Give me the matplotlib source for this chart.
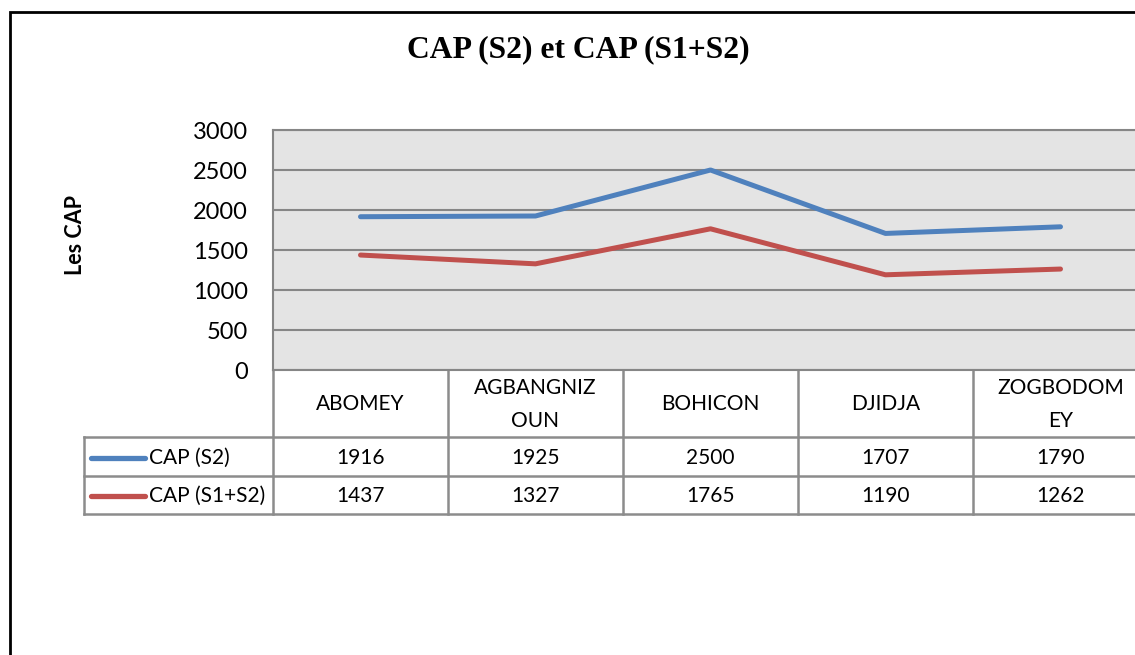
import matplotlib
matplotlib.use("Agg")
import matplotlib.pyplot as plt
import matplotlib.transforms as mtransforms
from matplotlib.lines import Line2D

# DATA
communes = ["ABOMEY", "AGBANGNIZ\nOUN", "BOHICON", "DJIDJA", "ZOGBODOM\nEY"]
series_names = ["CAP (S2)", "CAP (S1+S2)"]
cap_s2 = [1916, 1925, 2500, 1707, 1790]
cap_s1_s2 = [1437, 1327, 1765, 1190, 1262]
y_ticks = [0, 500, 1000, 1500, 2000, 2500, 3000]

colors = ["#4F81BD", "#C0504D"]
grid_color = "#868686"
W, H = 1135, 655

fig = plt.figure(figsize=(W / 100, H / 100), dpi=100)

# overlay in pixel coordinates for border / table / labels
ov = fig.add_axes([0, 0, 1, 1], zorder=0)
ov.set_xlim(0, W)
ov.set_ylim(H, 0)
ov.axis("off")

# MAIN PLOT AREA (extends past the right edge like the original)
left, top, bottom, right = 273, 130, 370, 1148
ax = fig.add_axes([left / W, 1 - bottom / H, (right - left) / W, (bottom - top) / H], zorder=1)
ax.set_facecolor("#E4E4E4")
x = list(range(len(communes)))
for vals, c in zip([cap_s2, cap_s1_s2], colors):
    ax.plot(x, vals, color=c, lw=3.6, solid_capstyle="round", solid_joinstyle="round", zorder=3)
ax.set_xlim(-0.5, len(communes) - 0.5)
ax.set_ylim(0, 3000)
ax.set_yticks(y_ticks)
ax.set_xticks([])
ax.yaxis.grid(True, color=grid_color, lw=1.5)
ax.set_axisbelow(True)
ax.tick_params(axis="y", length=0, pad=18, labelsize=17)
for lab in ax.get_yticklabels():
    lab.set_fontfamily("Lato")
for s in ax.spines.values():
    s.set_color(grid_color)
    s.set_linewidth(1.5)

# title and y label
ov.text(578, 50, "CAP (S2) et CAP (S1+S2)", ha="center", va="center",
        fontsize=22.8, fontweight="bold", family="Liberation Serif")
ov.text(75, 235, "Les CAP", ha="center", va="center", rotation=90,
        fontsize=15.5, fontweight="bold", family="Lato")

# outer border
ov.plot([10, 10, W + 5], [H + 5, 12, 12], color="black", lw=2, solid_joinstyle="miter")

# DATA TABLE
tc = "#8C8C8C"
blend = mtransforms.blended_transform_factory(ax.transData, ov.transData)
row_y = [bottom, 437, 476, 514]
edges = [i - 0.5 for i in range(len(communes) + 1)]
for e in edges:
    ov.plot([e, e], [row_y[0], row_y[-1]], color=tc, lw=1.8, transform=blend, clip_on=False)
for yy in row_y[1:]:
    ov.plot([84, W + 5], [yy, yy], color=tc, lw=1.8)
ov.plot([84, 84], [row_y[1], row_y[-1]], color=tc, lw=1.8)

for i, name in enumerate(communes):
    ov.text(i, (row_y[0] + row_y[1]) / 2 + 1, name, ha="center", va="center", fontsize=15,
            family="Lato", linespacing=1.85, transform=blend)

for r, (vals, name, c) in enumerate(zip([cap_s2, cap_s1_s2], series_names, colors)):
    yc = (row_y[r + 1] + row_y[r + 2]) / 2 + 1
    for i, v in enumerate(vals):
        ov.text(i, yc, str(v), ha="center", va="center", fontsize=15, family="Lato", transform=blend)
    ov.add_line(Line2D([91, 145], [yc, yc], color=c, lw=3.8, solid_capstyle="round"))
    ov.text(149, yc, name, ha="left", va="center", fontsize=15, family="Lato")

fig.savefig("out.png", dpi=100)
